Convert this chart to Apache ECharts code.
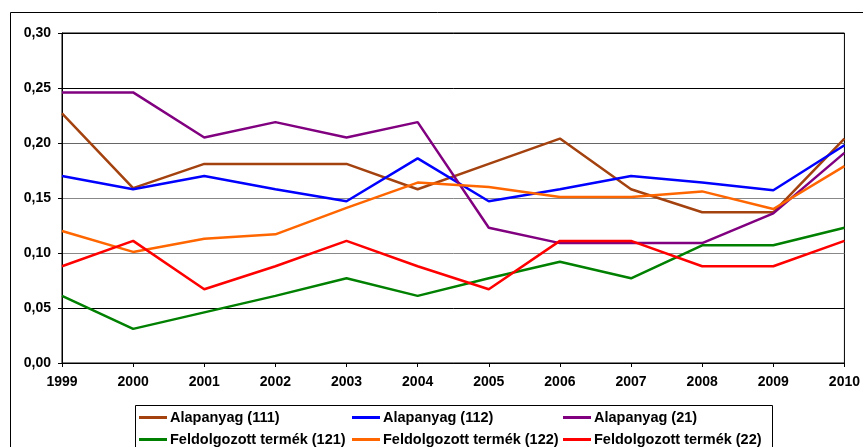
<!DOCTYPE html>
<html>
<head>
<meta charset="utf-8">
<script src="https://cdn.jsdelivr.net/npm/echarts@6/dist/echarts.min.js"></script>
<style>
  html, body { margin: 0; padding: 0; background: #fff; }
  #chart { width: 863px; height: 447px; }
</style>
</head>
<body>
<div id="chart"></div>
<script>
// --- Datos ---
const years = ['1999', '2000', '2001', '2002', '2003', '2004', '2005', '2006', '2007', '2008', '2009', '2010'];

const alapanyag111 = [0.227, 0.159, 0.181, 0.181, 0.181, 0.158, 0.181, 0.204, 0.158, 0.137, 0.137, 0.204];
const alapanyag112 = [0.170, 0.158, 0.170, 0.158, 0.147, 0.186, 0.147, 0.158, 0.170, 0.164, 0.157, 0.198];
const alapanyag21  = [0.246, 0.246, 0.205, 0.219, 0.205, 0.219, 0.123, 0.109, 0.109, 0.109, 0.136, 0.191];
const feldolg121   = [0.061, 0.031, 0.046, 0.061, 0.077, 0.061, 0.077, 0.092, 0.077, 0.107, 0.107, 0.123];
const feldolg122   = [0.120, 0.101, 0.113, 0.117, 0.141, 0.164, 0.160, 0.151, 0.151, 0.156, 0.140, 0.179];
const feldolg22    = [0.088, 0.111, 0.067, 0.088, 0.111, 0.088, 0.067, 0.111, 0.111, 0.088, 0.088, 0.111];

const yTicks = [0, 0.05, 0.10, 0.15, 0.20, 0.25, 0.30];

const chart = echarts.init(document.getElementById('chart'));

const font = 'Liberation Sans, Arial, sans-serif';
const labelStyle = { color: '#000', fontFamily: font, fontWeight: 'bold', fontSize: 14 };

function mkSeries(name, data, color) {
    return {
        name: name,
        type: 'line',
        data: data,
        symbol: 'none',
        lineStyle: { color: color, width: 2.5 },
        itemStyle: { color: color },
        animation: false
    };
}

// una leyenda vertical por columna, para que las columnas queden alineadas
function mkLegend(names, left) {
    return {
        orient: 'vertical',
        left: left,
        top: 410,
        padding: 0,
        itemGap: 7,
        itemWidth: 28,
        itemHeight: 3,
        icon: 'rect',
        textStyle: { color: '#000', fontFamily: font, fontWeight: 'bold', fontSize: 14.5, lineHeight: 14, padding: [0, 0, 0, -2] },
        data: names
    };
}

chart.setOption({
    backgroundColor: '#fff',
    animation: false,
    grid: {
        left: 62, right: 17, top: 33, bottom: 84,
        show: true, borderColor: '#000', borderWidth: 1
    },
    graphic: [
        // marco exterior
        { type: 'rect', shape: { x: 10.5, y: 12.5, width: 900, height: 500 },
          style: { fill: 'none', stroke: '#000', lineWidth: 1 }, z: 0 },
        // caja de la leyenda
        { type: 'rect', shape: { x: 135.5, y: 405.5, width: 637, height: 60 },
          style: { fill: '#fff', stroke: '#000', lineWidth: 1 }, z: 0 }
    ],
    legend: [
        mkLegend(['Alapanyag (111)', 'Feldolgozott termék (121)'], 139),
        mkLegend(['Alapanyag (112)', 'Feldolgozott termék (122)'], 352),
        mkLegend(['Alapanyag (21)', 'Feldolgozott termék (22)'], 563)
    ],
    xAxis: {
        type: 'category',
        data: years,
        boundaryGap: false,
        axisLine: { lineStyle: { color: '#000', width: 1 } },
        axisTick: { show: true, length: 4, lineStyle: { color: '#000' } },
        axisLabel: Object.assign({ margin: 12, interval: 0 }, labelStyle),
        splitLine: { show: false }
    },
    yAxis: {
        type: 'value',
        min: yTicks[0],
        max: yTicks[yTicks.length - 1],
        interval: 0.05,
        axisLine: { show: true, lineStyle: { color: '#000', width: 1 } },
        axisTick: { show: true, length: 4, lineStyle: { color: '#000' } },
        axisLabel: Object.assign({
            margin: 11,
            formatter: v => v.toFixed(2).replace('.', ',')
        }, labelStyle),
        splitLine: {
            show: true,
            lineStyle: { color: ['#000', '#000', '#888', '#888', '#666', '#000', '#000'], width: 1 }
        }
    },
    series: [
        mkSeries('Alapanyag (111)', alapanyag111, '#A3420F'),
        mkSeries('Alapanyag (112)', alapanyag112, '#0000FF'),
        mkSeries('Alapanyag (21)', alapanyag21, '#800080'),
        mkSeries('Feldolgozott termék (121)', feldolg121, '#008000'),
        mkSeries('Feldolgozott termék (122)', feldolg122, '#FF6600'),
        mkSeries('Feldolgozott termék (22)', feldolg22, '#FF0000')
    ]
});
</script>
</body>
</html>
